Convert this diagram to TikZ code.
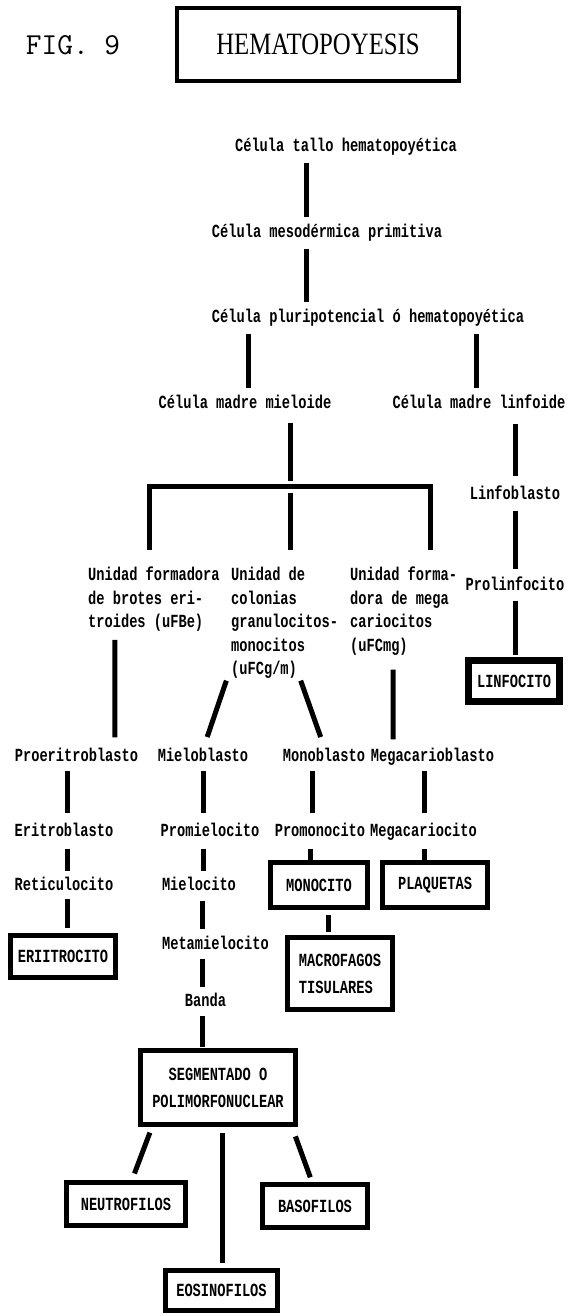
\documentclass[tikz,border=0pt]{standalone}
\usepackage{fontspec}
\usepackage{tikz}
\usetikzlibrary{positioning,calc}
\newfontfamily\hemafont[FakeStretch=0.74]{Liberation Mono}
\newfontfamily\titfont[FakeStretch=0.8]{Liberation Serif}
\newcommand{\LB}{\hemafont\bfseries\fontsize{18.5}{23.5}\selectfont}

\begin{document}
\begin{tikzpicture}[x=1pt,y=-1pt,font=\LB,
  lbl/.style={inner sep=0pt,text height=12pt,text depth=3pt},
  unid/.style={inner sep=0pt,align=left,anchor=north west},
  caja/.style={draw,line width=5pt,inner sep=0pt,font=\LB\fontsize{18.5}{27}\selectfont},
  link/.style={line width=5pt,shorten <=8pt,shorten >=8pt}]
  \path[use as bounding box,fill=white] (0,0) rectangle (571,1316);

  \node[font=\ttfamily\fontsize{30.5}{36}\selectfont] (fig) at (73,45) {FIG. 9};
  \node[draw,line width=4pt,minimum width=282pt,minimum height=73pt,font=\titfont\fontsize{31}{36}\selectfont] (titulo) at (318,44.5) {HEMATOPOYESIS};

  \node[lbl] (tallo) at (346,147) {Célula tallo hematopoyética};
  \node[lbl] (meso) at (327,233) {Célula mesodérmica primitiva};
  \node[lbl] (pluri) at (368,318) {Célula pluripotencial ó hematopoyética};
  \node[lbl] (mieloide) at (245,404) {Célula madre mieloide};
  \node[lbl] (linfoide) at (479,404) {Célula madre linfoide};
  \node[lbl] (linfob) at (515,495) {Linfoblasto};
  \node[lbl] (prolinf) at (515,586) {Prolinfocito};
  \node[caja,line width=7pt,minimum width=91pt,minimum height=41pt] (linfocito) at (514,681) {LINFOCITO};

  \node[unid] (ufbe) at (88,567) {Unidad formadora\\de brotes eri-\\troides (uFBe)};
  \node[unid] (ufcgm) at (231,567) {Unidad de\\colonias\\granulocitos-\\monocitos\\(uFCg/m)};
  \node[unid] (ufcmg) at (350,567) {Unidad forma-\\dora de mega\\cariocitos\\(uFCmg)};

  \node[lbl] (proerit) at (76.5,757) {Proeritroblasto};
  \node[lbl] (mielob) at (203,757) {Mieloblasto};
  \node[lbl] (monob) at (324,757) {Monoblasto};
  \node[lbl] (megab) at (432.5,757) {Megacarioblasto};
  \node[lbl] (eritrob) at (64,832) {Eritroblasto};
  \node[lbl] (promiel) at (210,832) {Promielocito};
  \node[lbl] (promono) at (320,832) {Promonocito};
  \node[lbl] (megac) at (423.5,832) {Megacariocito};
  \node[lbl] (retic) at (64,886) {Reticulocito};
  \node[lbl] (mieloc) at (199,886) {Mielocito};
  \node[caja,minimum width=97pt,minimum height=45pt] (monocito) at (319,885) {MONOCITO};
  \node[caja,minimum width=105pt,minimum height=45pt] (plaq) at (435,885) {PLAQUETAS};
  \node[caja,minimum width=105pt,minimum height=42pt] (eri) at (63,956.5) {ERIITROCITO};
  \node[lbl] (metam) at (215.5,945) {Metamielocito};
  \node[caja,align=left,minimum width=105pt,minimum height=72pt] (macro) at (340,973.5) {MACROFAGOS\\TISULARES};
  \node[lbl] (banda) at (205.5,1002) {Banda};
  \node[caja,align=center,minimum width=155pt,minimum height=74pt] (seg) at (218,1087.5) {SEGMENTADO O\\POLIMORFONUCLEAR};
  \node[caja,minimum width=119pt,minimum height=43pt] (neutro) at (126,1204) {NEUTROFILOS};
  \node[caja,minimum width=105pt,minimum height=43pt] (baso) at (315,1206) {BASOFILOS};
  \node[caja,minimum width=112pt,minimum height=40pt] (eosino) at (221.5,1290.5) {EOSINOFILOS};

  \draw[link] ([xshift=-40pt]tallo.south) -- ([xshift=-21pt]meso.north);
  \draw[link] ([xshift=-21pt]meso.south) -- ([xshift=-62pt]pluri.north);
  \draw[link] ([xshift=-120pt]pluri.south) -- ([xshift=3pt]mieloide.north);
  \draw[link] ([xshift=108pt]pluri.south) -- ([xshift=-3pt]linfoide.north);

  \draw[link,shorten <=12pt,shorten >=11pt] ([xshift=36pt]linfoide.south) -- (linfob.north);
  \draw[link,shorten >=9pt] (linfob.south) -- (prolinf.north);
  \draw[link,shorten <=7pt,shorten >=2pt] (prolinf.south) -- ([xshift=1pt]linfocito.north);

  \coordinate (split) at (290,486);
  \draw[link,shorten <=11pt,shorten >=5pt] ([xshift=45pt]mieloide.south) -- (split);
  \draw[link,line join=miter,shorten <=17pt,shorten >=17pt] ([xshift=-4pt]ufbe.north) |- (split) -| ([xshift=27pt]ufcmg.north);
  \draw[link,shorten <=7pt,shorten >=17pt] (split) -- (split |- ufcgm.north);

  \draw[link,shorten >=12pt] ([xshift=-39pt]ufbe.south) -- ([xshift=38.5pt]proerit.north);
  \draw[link,shorten <=6pt,shorten >=11pt] ([xshift=-9.5pt]proerit.south) -- ([xshift=3pt]eritrob.north);
  \draw[link,shorten <=9pt,shorten >=7pt] ([xshift=3pt]eritrob.south) -- ([xshift=3pt]retic.north);
  \draw[link,shorten <=5pt,shorten >=5pt] ([xshift=3pt]retic.south) -- ([xshift=4pt]eri.north);

  \draw[link,shorten <=2pt,shorten >=13pt] ([xshift=-4pt]ufcgm.south west) -- (mielob.north);
  \draw[link,shorten <=6pt,shorten >=11pt] (mielob.south) -- ([xshift=-7pt]promiel.north);
  \draw[link,shorten <=9pt,shorten >=7pt] ([xshift=-7pt]promiel.south) -- ([xshift=4pt]mieloc.north);
  \draw[link,shorten <=7pt] ([xshift=3pt]mieloc.south) -- ([xshift=-13.5pt]metam.north);
  \draw[link,shorten <=6pt,shorten >=7pt] ([xshift=-13.5pt]metam.south) -- ([xshift=-3.5pt]banda.north);
  \draw[link,shorten <=6pt,shorten >=1pt] ([xshift=-3.5pt]banda.south) -- ([xshift=-16pt]seg.north);
  \draw[link,shorten <=6pt,shorten >=7pt] ([xshift=-66pt]seg.south) -- ([xshift=6pt]neutro.north);
  \draw[link,shorten <=6pt,shorten >=5pt] ([xshift=4pt]seg.south) -- ([xshift=.5pt]eosino.north);
  \draw[link,shorten <=10pt,shorten >=5pt] ([xshift=74pt]seg.south) -- ([xshift=-3pt]baso.north);

  \draw[link,shorten <=2pt,shorten >=13pt] ([xshift=69pt]ufcgm.south west) -- ([xshift=1pt]monob.north);
  \draw[link,shorten <=6pt,shorten >=11pt] ([xshift=-12pt]monob.south) -- ([xshift=-8pt]promono.north);
  \draw[link,shorten <=9pt,shorten >=0pt] ([xshift=-10pt]promono.south) -- ([xshift=-9pt]monocito.north);
  \draw[link,shorten <=5pt,shorten >=3pt] ([xshift=9pt]monocito.south) -- ([xshift=-12pt]macro.north);

  \draw[link,shorten <=14pt,shorten >=10pt] ([xshift=-10.5pt]ufcmg.south) -- ([xshift=-39.5pt]megab.north);
  \draw[link,shorten <=6pt,shorten >=11pt] ([xshift=-8.5pt]megab.south) -- ([xshift=.5pt]megac.north);
  \draw[link,shorten <=9pt,shorten >=0pt] ([xshift=.5pt]megac.south) -- ([xshift=-11pt]plaq.north);
\end{tikzpicture}
\end{document}
